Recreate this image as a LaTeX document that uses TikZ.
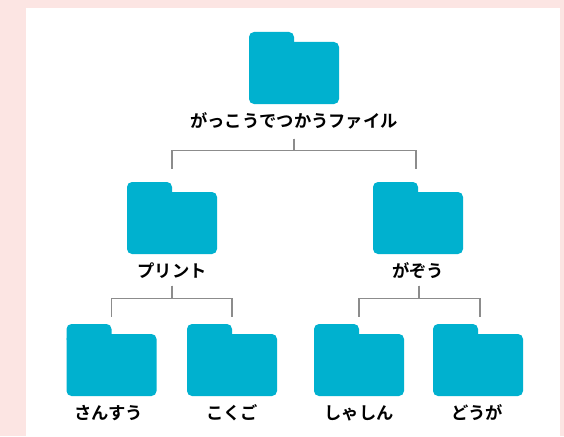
\documentclass[tikz,border=0pt]{standalone}
\usepackage{fontspec}
\newfontfamily\jpfont{Noto Sans CJK JP Bold}
\usetikzlibrary{positioning}
\definecolor{folderblue}{HTML}{00B1CF}
\definecolor{pagepink}{HTML}{FCE5E3}
\tikzset{
  folder/.style={fill=folderblue, rounded corners=5pt, inner sep=0pt, minimum width=90pt, minimum height=62pt},
  foldertab/.style={fill=folderblue, rounded corners=5pt, inner sep=0pt, minimum width=45pt, minimum height=20pt, anchor=north west, yshift=10pt},
  foldername/.style={font=\jpfont\fontsize{17.3pt}{17.3pt}\selectfont, inner sep=0pt, text height=14.5pt, text depth=2.5pt, text=black},
  branch/.style={draw=black!45, line width=1.7pt}
}

\begin{document}
\begin{tikzpicture}[x=1pt,y=-1pt]
    \fill[pagepink] (0,0) rectangle (564,436);
    \fill[white] (26,8) rectangle (560,436);
    \useasboundingbox (0,0) rectangle (564,436);

    \node[folder] (school) at (294,73) {};
    \node[foldertab] (schooltab) at (school.north west) {};
    \node[foldername, below=8.5pt of school] (schoolname) {がっこうでつかうファイル};

    \node[folder] (print) at (172,223) {};
    \node[foldertab] (printtab) at (print.north west) {};
    \node[foldername, below=8.5pt of print] (printname) {プリント};

    \node[folder] (art) at (418,223) {};
    \node[foldertab] (arttab) at (art.north west) {};
    \node[foldername, below=8.5pt of art] (artname) {がぞう};

    \node[folder] (math) at (111.5,365) {};
    \node[foldertab] (mathtab) at (math.north west) {};
    \node[foldername, below=8.5pt of math, xshift=-3pt] (mathname) {さんすう};

    \node[folder] (lang) at (232,365) {};
    \node[foldertab] (langtab) at (lang.north west) {};
    \node[foldername, below=8.5pt of lang] (langname) {こくご};

    \node[folder] (photo) at (359,365) {};
    \node[foldertab] (phototab) at (photo.north west) {};
    \node[foldername, below=8.5pt of photo] (photoname) {しゃしん};

    \node[folder] (video) at (478,365) {};
    \node[foldertab] (videotab) at (video.north west) {};
    \node[foldername, below=8.5pt of video, xshift=-1pt] (videoname) {どうが};

    \draw[branch, shorten <=8.5pt, shorten >=23pt] (schoolname.south) -- ++(0,20.5) -| (print.north);
    \draw[branch, shorten <=8.5pt, shorten >=23pt] (schoolname.south) -- ++(0,20.5) -| ([xshift=-2pt]art.north);

    \draw[branch, shorten <=5.5pt, shorten >=17pt] (printname.south) -- ++(0,18.5) -| (math.north);
    \draw[branch, shorten <=5.5pt, shorten >=17pt] (printname.south) -- ++(0,18.5) -| (lang.north);

    \draw[branch, shorten <=5.5pt, shorten >=17pt] ([xshift=1pt]artname.south) -- ++(0,18.5) -| (photo.north);
    \draw[branch, shorten <=5.5pt, shorten >=17pt] ([xshift=1pt]artname.south) -- ++(0,18.5) -| ([xshift=2pt]video.north);
\end{tikzpicture}
\end{document}
